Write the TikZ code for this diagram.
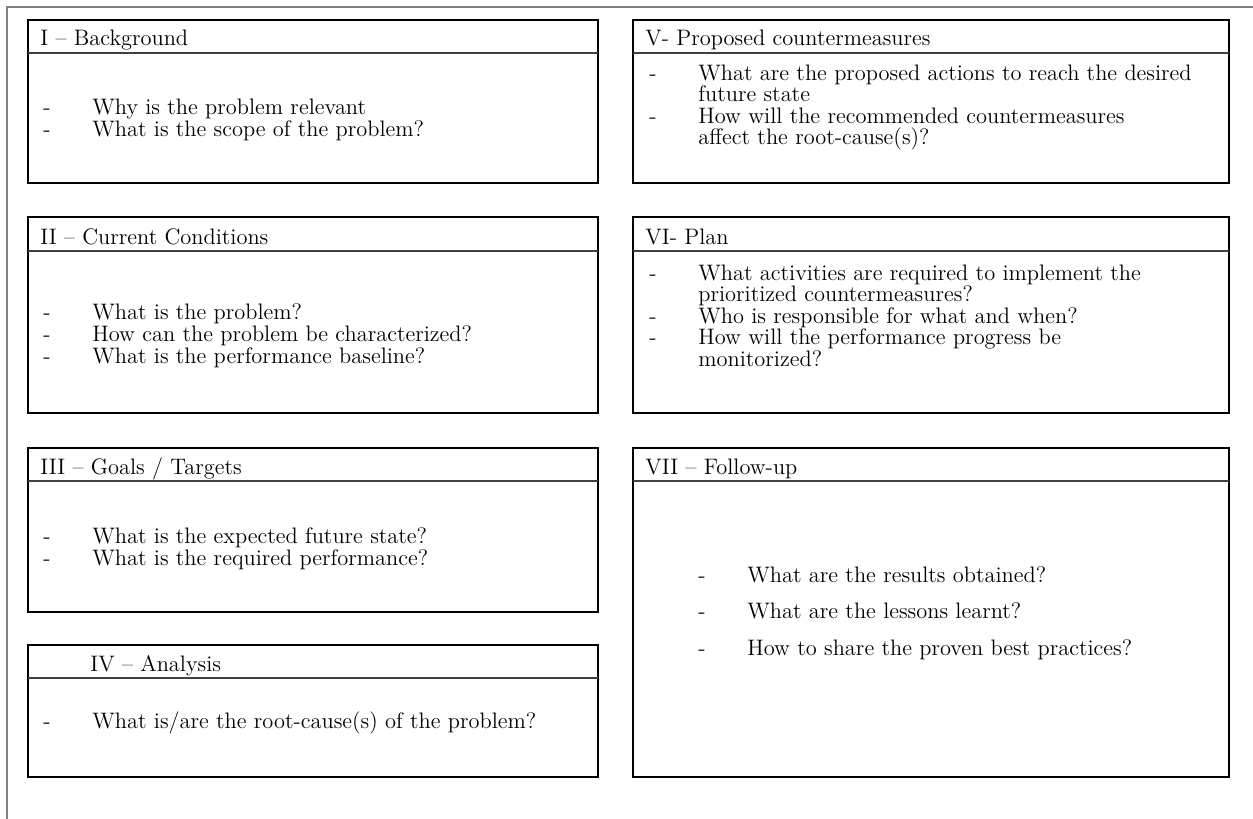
\documentclass[tikz,border=0pt]{standalone}
\usepackage{tikz}
\usetikzlibrary{positioning}
\definecolor{frameColor}{HTML}{808080}
\definecolor{ruleColor}{HTML}{404040}

\tikzset{
  panel/.style={draw=black, line width=0.9pt},
  headrule/.style={draw=ruleColor, line width=0.8pt},
  head/.style={anchor=base west, inner sep=0pt, font=\fontsize{11.2}{12}\selectfont},
  item/.style={anchor=base west, inner sep=0pt, font=\fontsize{11.2}{12}\selectfont},
}
\newcommand{\dashitem}[1]{\makebox[24.5pt][l]{-}#1}

\begin{document}
\begin{tikzpicture}[x=0.5pt, y=-0.5pt]
  \useasboundingbox (0,0) rectangle (1253,819);
  % outer frame, only top and left are visible
  \draw[frameColor, line width=0.8pt] (1253,7) -- (7,7) -- (7,819);

  % left column
  \draw[panel] (28,20) rectangle (598,183);
  \draw[headrule] (28,53) -- (598,53);
  \node[head] (hI) at (40,46) {I -- Background};
  \node[item] (qI1) at (43,114) {\dashitem{Why is the problem relevant}};
  \node[item] (qI2) at (43,136) {\dashitem{What is the scope of the problem?}};

  \draw[panel] (28,217) rectangle (598,413);
  \draw[headrule] (28,251) -- (598,251);
  \node[head] (hII) at (40,244) {II -- Current Conditions};
  \node[item] (qII1) at (43,319) {\dashitem{What is the problem?}};
  \node[item] (qII2) at (43,341) {\dashitem{How can the problem be characterized?}};
  \node[item] (qII3) at (43,363) {\dashitem{What is the performance baseline?}};

  \draw[panel] (28,448) rectangle (598,612);
  \draw[headrule] (28,481) -- (598,481);
  \node[head] (hIII) at (40,474) {III -- Goals / Targets};
  \node[item] (qIII1) at (43,543) {\dashitem{What is the expected future state?}};
  \node[item] (qIII2) at (43,565) {\dashitem{What is the required performance?}};

  \draw[panel] (28,645) rectangle (598,777);
  \draw[headrule] (28,678) -- (598,678);
  \node[head] (hIV) at (90,671) {IV -- Analysis};
  \node[item] (qIV1) at (43,728) {\dashitem{What is/are the root-cause(s) of the problem?}};

  % right column
  \draw[panel] (633,20) rectangle (1229,183);
  \draw[headrule] (633,53) -- (1229,53);
  \node[head] (hV) at (645,45) {V- Proposed countermeasures};
  \node[item] (qV1) at (649,80) {\dashitem{What are the proposed actions to reach the desired}};
  \node[item] (qV1b) at (698,101) {future state};
  \node[item] (qV2) at (649,123) {\dashitem{How will the recommended countermeasures}};
  \node[item] (qV2b) at (698,144) {affect the root-cause(s)?};

  \draw[panel] (633,217) rectangle (1229,413);
  \draw[headrule] (633,251) -- (1229,251);
  \node[head] (hVI) at (645,244) {VI- Plan};
  \node[item] (qVI1) at (649,280) {\dashitem{What activities are required to implement the}};
  \node[item] (qVI1b) at (698,301.5) {prioritized countermeasures?};
  \node[item] (qVI2) at (649,323) {\dashitem{Who is responsible for what and when?}};
  \node[item] (qVI3) at (649,344.5) {\dashitem{How will the performance progress be}};
  \node[item] (qVI3b) at (698,366) {monitorized?};

  \draw[panel] (633,448) rectangle (1229,777);
  \draw[headrule] (633,481) -- (1229,481);
  \node[head] (hVII) at (645,474) {VII -- Follow-up};
  \node[item] (qVII1) at (698,582) {\dashitem{What are the results obtained?}};
  \node[item] (qVII2) at (698,618) {\dashitem{What are the lessons learnt?}};
  \node[item] (qVII3) at (698,655) {\dashitem{How to share the proven best practices?}};
\end{tikzpicture}
\end{document}
